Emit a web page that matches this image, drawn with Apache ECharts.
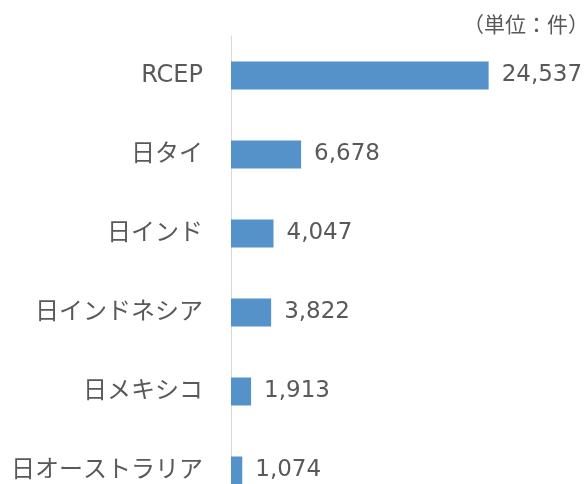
<!DOCTYPE html>
<html lang="ja">
<head>
<meta charset="UTF-8">
<title>EPA別件数</title>
<script src="https://cdn.jsdelivr.net/npm/echarts@6/dist/echarts.min.js"></script>
<style>
  body { margin: 0; padding: 0; background: #fff; }
  #main { width: 588px; height: 484px; }
</style>
</head>
<body>
<div id="main"></div>
<script>
const categories = ['RCEP', '日タイ', '日インド', '日インドネシア', '日メキシコ', '日オーストラリア'];
const counts = [24537, 6678, 4047, 3822, 1913, 1074];
const unitLabel = '（単位：件）';

const txtColor = '#595959';
const fontFam = '"DejaVu Sans", "Noto Sans CJK JP", sans-serif';

const chart = echarts.init(document.getElementById('main'));
chart.setOption({
  animation: false,
  title: {
    text: unitLabel, left: 458, top: 9,
    textStyle: { fontSize: 21, fontWeight: 'normal', color: txtColor, fontFamily: '"Noto Sans CJK JP", sans-serif' }
  },
  // bottom row runs past the canvas edge in the original
  grid: { left: 231, top: 36, width: 294, height: 474, outerBoundsMode: 'none', containLabel: false },
  xAxis: { type: 'value', min: 0, max: 28000, show: false },
  yAxis: {
    type: 'category', inverse: true, data: categories,
    axisLine: { show: true, lineStyle: { color: '#d9d9d9', width: 1 } },
    axisTick: { show: false },
    axisLabel: { color: txtColor, fontSize: 24, margin: 28, fontFamily: fontFam }
  },
  series: [{
    type: 'bar', data: counts, barWidth: 28,
    itemStyle: { color: '#5592c9' },
    label: {
      show: true, position: 'right', distance: 13,
      color: txtColor, fontSize: 23, fontFamily: fontFam,
      formatter: p => p.value.toLocaleString('en-US')
    }
  }]
});
</script>
</body>
</html>
